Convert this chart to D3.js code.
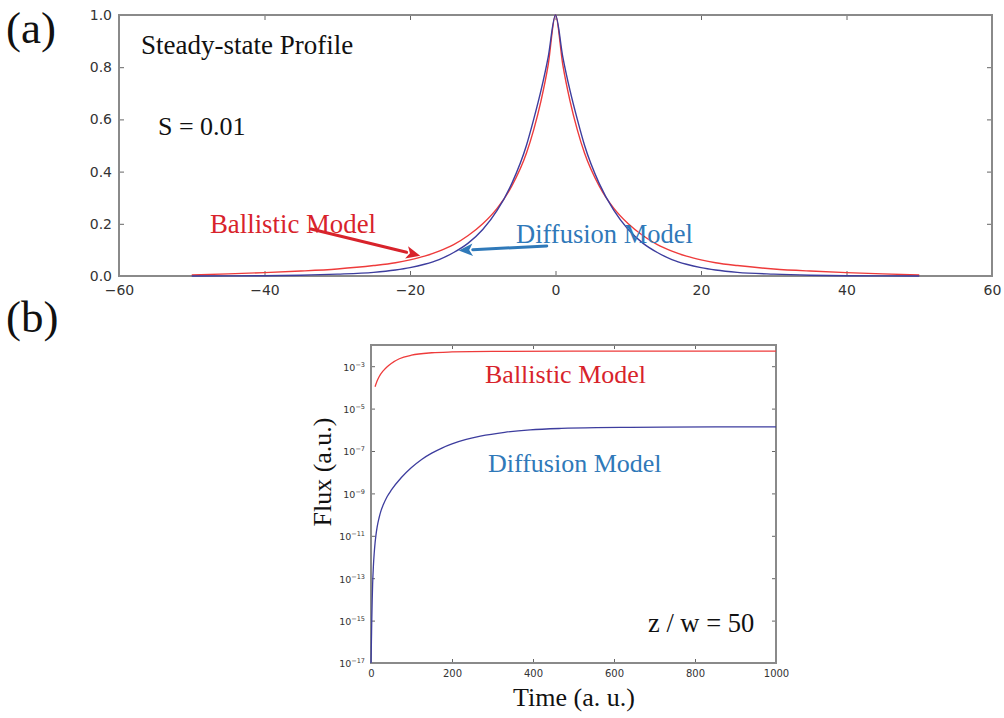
<!DOCTYPE html>
<html>
<head>
<meta charset="utf-8">
<script src="https://cdn.jsdelivr.net/npm/d3@7"></script>
<style>
  html, body { margin: 0; padding: 0; background: #fff; }
  svg { display: block; }
  .tick text { font-family: "DejaVu Sans", sans-serif; fill: #333; }
  .serif { font-family: "Liberation Serif", "Times New Roman", serif; }
</style>
</head>
<body>
<svg id="fig" width="1004" height="718"></svg>
<script>
// ---- Panel (a): steady-state profiles (position, normalised density) ----
const profileX     = [-50, -45, -40, -35, -30, -25, -22, -20, -18, -16, -14, -12, -10, -8, -6, -4, -3, -2, -1, 0,
                      1, 2, 3, 4, 6, 8, 10, 12, 14, 16, 18, 20, 22, 25, 30, 35, 40, 45, 50];
const ballisticA   = [0.004, 0.008, 0.013, 0.019, 0.027, 0.040, 0.051, 0.062, 0.076, 0.095, 0.120, 0.155, 0.200, 0.260, 0.345, 0.470, 0.560, 0.670, 0.810, 1.0,
                      0.810, 0.670, 0.560, 0.470, 0.345, 0.260, 0.200, 0.155, 0.120, 0.095, 0.076, 0.062, 0.051, 0.040, 0.027, 0.019, 0.013, 0.008, 0.004];
const diffusionA   = [0.0002, 0.0005, 0.0012, 0.003, 0.007, 0.014, 0.023, 0.032, 0.045, 0.063, 0.090, 0.126, 0.178, 0.252, 0.355, 0.500, 0.600, 0.710, 0.840, 1.0,
                      0.840, 0.710, 0.600, 0.500, 0.355, 0.252, 0.178, 0.126, 0.090, 0.063, 0.045, 0.032, 0.023, 0.014, 0.007, 0.003, 0.0012, 0.0005, 0.0002];
const xTicksA = [-60, -40, -20, 0, 20, 40, 60];
const yTicksA = [0.0, 0.2, 0.4, 0.6, 0.8, 1.0];

// ---- Panel (b): flux versus time at z / w = 50 (log scale) ----
const timeBallistic = [10, 15, 20, 30, 40, 50, 70, 100, 150, 200, 300, 500, 1000];
const fluxBallistic = [1.07e-4, 2.0e-4, 3.2e-4, 6.0e-4, 9.5e-4, 1.35e-3, 2.24e-3, 3.3e-3, 4.3e-3, 4.7e-3, 5.0e-3, 5.1e-3, 5.1e-3];
const timeDiffusion = [0, 1, 2, 3, 4, 6, 8, 10, 12, 15, 20, 25, 30, 40, 50, 75, 100, 125, 150, 175, 200, 235, 270, 330, 393, 470, 557, 640, 721, 850, 1000];
const fluxDiffusion = [1e-17, 1e-16, 1.26e-15, 1e-14, 5e-14, 4e-13, 1.58e-12, 4.5e-12, 1e-11, 2.5e-11, 7.1e-11, 1.58e-10, 2.8e-10, 7.1e-10, 1.41e-9,
                       5.6e-9, 1.66e-8, 4e-8, 7.9e-8, 1.38e-7, 2.16e-7, 3.5e-7, 5e-7, 7.6e-7, 9.9e-7, 1.16e-6, 1.26e-6, 1.3e-6, 1.33e-6, 1.36e-6, 1.38e-6];
const xTicksB = [0, 200, 400, 600, 800, 1000];
const yExpB   = [-3, -5, -7, -9, -11, -13, -15, -17];

const RED_LINE = "#ee3b3b";
const BLUE_LINE = "#3d3d9e";
const RED_TEXT = "#d8232b";
const BLUE_TEXT = "#2f79b9";
const SPINE = "#8a8a8a";

const svg = d3.select("#fig");

// Panel labels
svg.append("text").attr("class", "serif").attr("x", 6).attr("y", 43)
  .attr("font-size", 45).attr("fill", "#111").text("(a)");
svg.append("text").attr("class", "serif").attr("x", 6).attr("y", 332)
  .attr("font-size", 45).attr("fill", "#111").text("(b)");

// ================= Panel (a) =================
const xa = d3.scaleLinear().domain([-60, 60]).range([119, 992]);
const ya = d3.scaleLinear().domain([0, 1]).range([276, 15]);
const ga = svg.append("g");

function styleAxis(g) {
  g.select(".domain").remove();
  g.selectAll(".tick line").attr("stroke", "#666").attr("stroke-width", 1);
}

ga.append("g").attr("transform", `translate(0,${ya(0)})`)
  .call(d3.axisBottom(xa).tickValues(xTicksA).tickSize(-5).tickPadding(9)
        .tickFormat(d => d < 0 ? "\u2212" + Math.abs(d) : d))
  .call(styleAxis).selectAll("text").attr("font-size", 14);
ga.append("g").attr("transform", `translate(0,${ya(1)})`)
  .call(d3.axisTop(xa).tickValues(xTicksA).tickSize(-5).tickFormat(""))
  .call(styleAxis);
ga.append("g").attr("transform", `translate(${xa(-60)},0)`)
  .call(d3.axisLeft(ya).tickValues(yTicksA).tickSize(-5).tickPadding(7).tickFormat(d3.format(".1f")))
  .call(styleAxis).selectAll("text").attr("font-size", 14);
ga.append("g").attr("transform", `translate(${xa(60)},0)`)
  .call(d3.axisRight(ya).tickValues(yTicksA).tickSize(-5).tickFormat(""))
  .call(styleAxis);

ga.append("rect").attr("x", xa(-60)).attr("y", ya(1))
  .attr("width", xa(60) - xa(-60)).attr("height", ya(0) - ya(1))
  .attr("fill", "none").attr("stroke", SPINE).attr("stroke-width", 2);

const lineA = (vals) => d3.line().x((d, i) => xa(profileX[i])).y(d => ya(d))
  .curve(d3.curveMonotoneX)(vals);

ga.append("path").attr("d", lineA(ballisticA)).attr("fill", "none")
  .attr("stroke", RED_LINE).attr("stroke-width", 1.4);
ga.append("path").attr("d", lineA(diffusionA)).attr("fill", "none")
  .attr("stroke", BLUE_LINE).attr("stroke-width", 1.4);

ga.append("text").attr("class", "serif").attr("x", 141).attr("y", 54)
  .attr("font-size", 27).attr("fill", "#111").text("Steady-state Profile");
ga.append("text").attr("class", "serif").attr("x", 158).attr("y", 135)
  .attr("font-size", 26).attr("fill", "#111").text("S = 0.01");
ga.append("text").attr("class", "serif").attr("x", 210).attr("y", 233)
  .attr("font-size", 26.8).attr("fill", RED_TEXT).text("Ballistic Model");
ga.append("text").attr("class", "serif").attr("x", 516).attr("y", 243)
  .attr("font-size", 26.5).attr("fill", BLUE_TEXT).text("Diffusion Model");

// Annotation arrows pointing at each curve
function arrow(g, x1, y1, x2, y2, color, width, head) {
  const ang = Math.atan2(y2 - y1, x2 - x1);
  const bx = x2 - head * Math.cos(ang), by = y2 - head * Math.sin(ang);
  g.append("line").attr("x1", x1).attr("y1", y1).attr("x2", bx).attr("y2", by)
    .attr("stroke", color).attr("stroke-width", width).attr("stroke-linecap", "round");
  const hw = head * 0.45;
  const p = [
    [x2, y2],
    [bx + hw * Math.sin(ang), by - hw * Math.cos(ang)],
    [bx + head * 0.25 * Math.cos(ang), by + head * 0.25 * Math.sin(ang)],
    [bx - hw * Math.sin(ang), by + hw * Math.cos(ang)]
  ];
  g.append("polygon").attr("points", p.map(q => q.join(",")).join(" ")).attr("fill", color);
}
arrow(ga, xa(-33.6), ya(0.18), xa(-18.6), ya(0.078), RED_TEXT, 3, 14);
arrow(ga, xa(-1.2), ya(0.115), xa(-13.3), ya(0.098), BLUE_TEXT, 3, 14);

// ================= Panel (b) =================
const xb = d3.scaleLinear().domain([0, 1000]).range([371, 776]);
const yb = d3.scaleLog().domain([1e-17, 1e-2]).range([663, 345]);
const gb = svg.append("g");

gb.append("g").attr("transform", `translate(0,${yb(1e-17)})`)
  .call(d3.axisBottom(xb).tickValues(xTicksB).tickSize(-4).tickPadding(7).tickFormat(d3.format("d")))
  .call(styleAxis).selectAll("text").attr("font-size", 10).attr("fill", "#444");
gb.append("g").attr("transform", `translate(0,${yb(1e-2)})`)
  .call(d3.axisTop(xb).tickValues(xTicksB).tickSize(-4).tickFormat(""))
  .call(styleAxis);
const yTickVals = yExpB.map(e => Math.pow(10, e));
const leftAxis = gb.append("g").attr("transform", `translate(${xb(0)},0)`)
  .call(d3.axisLeft(yb).tickValues(yTickVals).tickSize(-4).tickPadding(6).tickFormat(""))
  .call(styleAxis);
leftAxis.selectAll(".tick").each(function (d) {
  const t = d3.select(this).select("text");
  const e = Math.round(Math.log10(d));
  t.attr("font-size", 9.5).attr("fill", "#444").attr("dy", "0.4em");
  t.append("tspan").text("10");
  t.append("tspan").attr("font-size", 6.5).attr("dy", "-0.6em").text("\u2212" + Math.abs(e));
});
gb.append("g").attr("transform", `translate(${xb(1000)},0)`)
  .call(d3.axisRight(yb).tickValues(yTickVals).tickSize(-4).tickFormat(""))
  .call(styleAxis);

gb.append("rect").attr("x", xb(0)).attr("y", yb(1e-2))
  .attr("width", xb(1000) - xb(0)).attr("height", yb(1e-17) - yb(1e-2))
  .attr("fill", "none").attr("stroke", SPINE).attr("stroke-width", 2);

const lineB = (ts, fs) => d3.line().x((d, i) => xb(ts[i])).y(d => yb(d))
  .curve(d3.curveMonotoneX)(fs);
gb.append("path").attr("d", lineB(timeBallistic, fluxBallistic)).attr("fill", "none")
  .attr("stroke", RED_LINE).attr("stroke-width", 1.3);
gb.append("path").attr("d", lineB(timeDiffusion, fluxDiffusion)).attr("fill", "none")
  .attr("stroke", BLUE_LINE).attr("stroke-width", 1.3);

gb.append("text").attr("class", "serif").attr("x", 485).attr("y", 383)
  .attr("font-size", 26).attr("fill", RED_TEXT).text("Ballistic Model");
gb.append("text").attr("class", "serif").attr("x", 488).attr("y", 472)
  .attr("font-size", 26).attr("fill", BLUE_TEXT).text("Diffusion Model");
gb.append("text").attr("class", "serif").attr("x", 648).attr("y", 632)
  .attr("font-size", 26.5).attr("fill", "#111").text("z / w = 50");
gb.append("text").attr("class", "serif").attr("x", 574).attr("y", 706)
  .attr("text-anchor", "middle").attr("font-size", 26).attr("fill", "#111").text("Time (a. u.)");
gb.append("text").attr("class", "serif")
  .attr("transform", `translate(331,472) rotate(-90)`)
  .attr("text-anchor", "middle").attr("font-size", 26).attr("fill", "#111").text("Flux (a.u.)");
</script>
</body>
</html>
